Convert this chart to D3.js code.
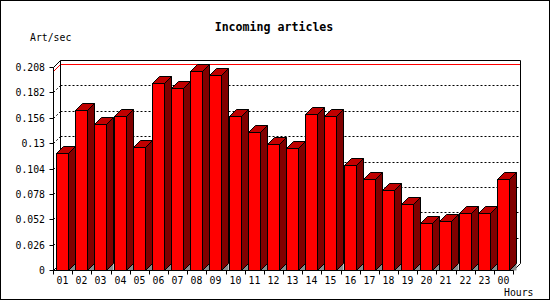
<!DOCTYPE html>
<html>
<head>
<meta charset="utf-8">
<script src="https://cdn.jsdelivr.net/npm/d3@7"></script>
<style>
  body { margin: 0; background: #fff; }
  svg { display: block; }
  .c-chart__label { font-family: "DejaVu Sans Mono", monospace; font-size: 9.8px; fill: #000; }
  .c-chart__title { font-family: "DejaVu Sans Mono", monospace; font-size: 11.6px; font-weight: bold; fill: #000; }
</style>
</head>
<body>
<script>
const hours = ["01", "02", "03", "04", "05", "06", "07", "08", "09", "10", "11", "12",
  "13", "14", "15", "16", "17", "18", "19", "20", "21", "22", "23", "00"];
const articlesPerSec = [0.1194, 0.1641, 0.1498, 0.1573, 0.1262, 0.1918, 0.186, 0.2044,
  0.2, 0.1583, 0.1416, 0.1286, 0.1255, 0.16, 0.1583, 0.1071, 0.0934, 0.0822,
  0.0678, 0.0484, 0.0497, 0.0579, 0.0586, 0.0934];
const yTicks = [0, 0.026, 0.052, 0.078, 0.104, 0.13, 0.156, 0.182, 0.208];

const width = 550;
const height = 300;
const depth = 7;
const plot = { left: 53.5, right: 513.5, top: 67.5, bottom: 270.5 };

const svg = d3.select("body").append("svg")
  .attr("width", width)
  .attr("height", height);

const x = d3.scaleBand().domain(hours).range([plot.left, plot.right]);
const y = d3.scaleLinear().domain([0, 0.208]).range([plot.bottom, plot.top]);

// snap to pixel centres so 1px lines stay sharp
const snap = v => Math.floor(v) + 0.5;

// outer frame
svg.append("rect")
  .attr("x", 0.5).attr("y", 0.5)
  .attr("width", width - 1).attr("height", height - 1)
  .attr("fill", "#fff").attr("stroke", "#000");

svg.append("text")
  .attr("class", "c-chart__title")
  .attr("x", 274).attr("y", 31)
  .attr("text-anchor", "middle")
  .text("Incoming articles");

svg.append("text")
  .attr("class", "c-chart__label")
  .attr("x", 30).attr("y", 41)
  .text("Art/sec");

const line = (g, x1, y1, x2, y2, color = "#000") =>
  g.append("line")
    .attr("x1", x1).attr("y1", y1).attr("x2", x2).attr("y2", y2)
    .attr("stroke", color);

// back plane grid lines (dashed), continued on the left wall
const grid = svg.append("g").attr("stroke-dasharray", "2,2");
yTicks.filter(d => d > 0 && d < 0.208).forEach(d => {
  const yg = snap(y(d));
  line(grid, plot.left + depth, yg - depth, plot.right + depth, yg - depth);
  line(grid, plot.left, yg, plot.left + depth, yg - depth);
});

// max value line
const maxY = snap(y(d3.max(articlesPerSec)));
line(svg, plot.left, maxY, plot.left + depth, maxY - depth, "#f00");
line(svg, plot.left + depth, maxY - depth, plot.right + depth, maxY - depth, "#f00");

// frame of the 3d box
const frame = svg.append("g");
line(frame, plot.left + depth, plot.top - depth, plot.right + depth, plot.top - depth);
line(frame, plot.left + depth, plot.top - depth, plot.left + depth, plot.bottom - depth);
line(frame, plot.right + depth, plot.top - depth, plot.right + depth, plot.bottom - depth);
line(frame, plot.right + depth, plot.bottom - depth, plot.right, plot.bottom);
line(frame, plot.left, plot.bottom, plot.left + depth, plot.bottom - depth);
line(frame, plot.left, plot.top, plot.left + depth, plot.top - depth);

// bars
const barOffset = 3;
const barWidth = 12;
const bars = svg.append("g").attr("stroke", "#000").attr("stroke-linejoin", "miter");
hours.forEach((h, i) => {
  const x0 = snap(x(h)) + barOffset;
  const x1 = x0 + barWidth;
  const yv = snap(y(articlesPerSec[i]));
  const y0 = plot.bottom;
  const pts = p => p.map(q => q.join(",")).join(" ");

  bars.append("polygon")
    .attr("points", pts([[x1, y0], [x1 + depth, y0 - depth], [x1 + depth, y0]]))
    .attr("fill", "#8c8c8c").attr("stroke", "none");
  bars.append("polygon")
    .attr("points", pts([[x1, yv], [x1 + depth, yv - depth], [x1 + depth, y0 - depth], [x1, y0]]))
    .attr("fill", "#800000");
  bars.append("polygon")
    .attr("points", pts([[x0, yv], [x0 + depth, yv - depth], [x1 + depth, yv - depth], [x1, yv]]))
    .attr("fill", "#c00000");
  bars.append("rect")
    .attr("x", x0).attr("y", yv)
    .attr("width", barWidth).attr("height", y0 - yv)
    .attr("fill", "#f00");
});

// y axis
const yAxis = svg.append("g");
line(yAxis, plot.left, plot.bottom, plot.left, plot.top);
yTicks.forEach(d => {
  const yt = snap(y(d));
  line(yAxis, plot.left - 4, yt, plot.left, yt);
  yAxis.append("text")
    .attr("class", "c-chart__label")
    .attr("x", 45).attr("y", yt)
    .attr("dy", "0.36em")
    .attr("text-anchor", "end")
    .text(d3.format("")(d));
});

// x axis
const xAxis = svg.append("g");
line(xAxis, plot.left, plot.bottom, plot.right, plot.bottom);
hours.concat([null]).forEach((h, i) => {
  const xt = snap(plot.left + i * x.step());
  line(xAxis, xt, plot.bottom, xt, plot.bottom + 4);
});
hours.forEach(h => {
  xAxis.append("text")
    .attr("class", "c-chart__label")
    .attr("x", snap(x(h)) + barOffset + barWidth / 2).attr("y", 284)
    .attr("text-anchor", "middle")
    .text(h);
});

svg.append("text")
  .attr("class", "c-chart__label")
  .attr("x", 504).attr("y", 296)
  .text("Hours");
</script>
</body>
</html>
